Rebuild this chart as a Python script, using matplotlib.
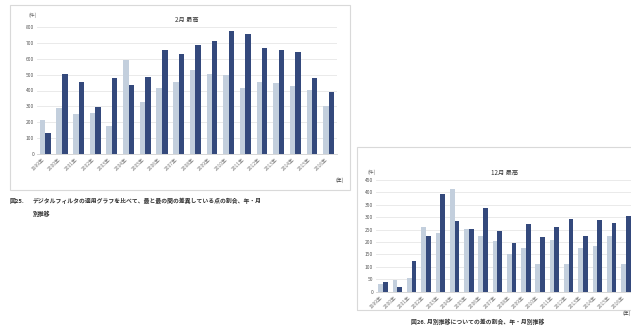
import matplotlib
matplotlib.use("Agg")
import matplotlib.pyplot as plt
from matplotlib.patches import Rectangle
import numpy as np

plt.rcParams['font.family'] = ['Noto Sans CJK JP', 'DejaVu Sans']

# ---- data ----
left_categories = ["1999年", "2000年", "2001年", "2002年", "2003年", "2004年", "2005年", "2006年", "2007年",
                   "2008年", "2009年", "2010年", "2011年", "2012年", "2013年", "2014年", "2015年", "2016年"]
left_light = [214, 287, 255, 260, 176, 595, 329, 417, 454, 532, 503, 496, 417, 454, 448, 431, 402, 302]
left_dark = [130, 507, 454, 297, 480, 433, 486, 653, 632, 685, 712, 775, 754, 670, 658, 643, 480, 392]
left_yticks = [0, 100, 200, 300, 400, 500, 600, 700, 800]

right_categories = ["1999年", "2000年", "2001年", "2002年", "2003年", "2004年", "2005年", "2006年", "2007年",
                    "2008年", "2009年", "2010年", "2011年", "2012年", "2013年", "2014年", "2015年", "2016年"]
right_light = [31, 47, 54, 259, 238, 413, 251, 224, 206, 152, 175, 112, 208, 112, 175, 184, 224, 112]
right_dark = [40, 20, 125, 225, 392, 285, 251, 339, 245, 198, 272, 222, 259, 293, 224, 289, 276, 305]
right_yticks = [0, 50, 100, 150, 200, 250, 300, 350, 400, 450]

LIGHT = "#c3cfdd"
DARK = "#34497c"
W, H = 631, 329

fig = plt.figure(figsize=(W / 100, H / 100), dpi=100)


def ax_px(x0, y0, x1, y1):
    return fig.add_axes([x0 / W, 1 - y1 / H, (x1 - x0) / W, (y1 - y0) / H])


def frame(x0, y0, x1, y1):
    fig.patches.append(Rectangle((x0 / W, 1 - y1 / H), (x1 - x0) / W, (y1 - y0) / H,
                                 transform=fig.transFigure, fill=False,
                                 edgecolor="#d9d9d9", linewidth=0.8))


def bar_chart(ax, cats, light, dark, yticks, title):
    x = np.arange(len(cats))
    bw = 0.33
    ax.bar(x - bw / 2, light, width=bw, color=LIGHT, zorder=2)
    ax.bar(x + bw / 2, dark, width=bw, color=DARK, zorder=2)
    ax.set_xlim(-0.5, len(cats) - 0.5)
    ax.set_ylim(yticks[0], yticks[-1])
    ax.set_yticks(yticks)
    ax.set_yticklabels([str(t) for t in yticks], fontsize=3.5, color="#555555")
    ax.set_xticks(x)
    ax.set_xticklabels(cats, rotation=45, ha="right", fontsize=3.5, color="#777777")
    ax.tick_params(length=0, pad=2)
    ax.grid(axis="y", color="#e6e6e6", linewidth=0.6, zorder=0)
    for s in ["top", "right", "left"]:
        ax.spines[s].set_visible(False)
    ax.spines["bottom"].set_color("#d0d0d0")
    ax.spines["bottom"].set_linewidth(0.6)
    ax.set_title(title, fontsize=4.5, color="#333333", pad=4)
    ax.set_facecolor("none")


# left chart
frame(10, 5, 350, 190)
axL = ax_px(37, 27, 337, 154)
bar_chart(axL, left_categories, left_light, left_dark, left_yticks, "2月 最高")
fig.text(33 / W, 1 - 15 / H, "(件)", fontsize=3.5, color="#666666", ha="center", va="center")
fig.text(340 / W, 1 - 180 / H, "(年)", fontsize=3.5, color="#444444", ha="center", va="center")
fig.text(10 / W, 1 - 201 / H, "図25.", fontsize=4.2, color="#333333", ha="left", va="center",
         fontweight="bold")
fig.text(33 / W, 1 - 201 / H,
         "デジタルフィルタの適用グラフを比べて、最と最の間の差異している点の割合、年・月",
         fontsize=4.2, color="#333333", ha="left", va="center", fontweight="bold")
fig.text(33 / W, 1 - 214 / H, "別推移", fontsize=4.2, color="#333333", ha="left", va="center",
         fontweight="bold")

# right chart
frame(357, 147, 660, 310)
axR = ax_px(376, 180, 633, 291.7)
bar_chart(axR, right_categories, right_light, right_dark, right_yticks, "12月 最高")
fig.text(372 / W, 1 - 172 / H, "(件)", fontsize=3.5, color="#666666", ha="center", va="center")
fig.text(627 / W, 1 - 313 / H, "(年)", fontsize=3.5, color="#444444", ha="center", va="center")
fig.text(478 / W, 1 - 322 / H, "図26. 月別推移についての差の割合、年・月別推移",
         fontsize=4.2, color="#333333", ha="center", va="center", fontweight="bold")

fig.savefig("out.png", dpi=100, facecolor="white")
